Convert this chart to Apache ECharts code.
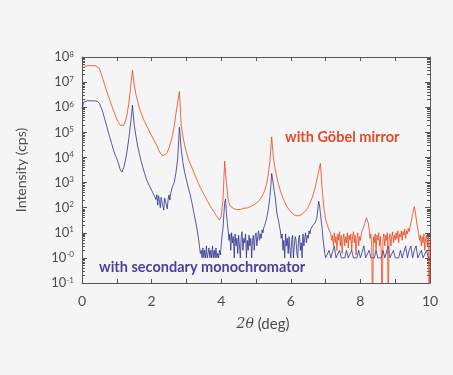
<!DOCTYPE html>
<html>
<head>
<meta charset="utf-8">
<script src="https://cdn.jsdelivr.net/npm/echarts@6/dist/echarts.min.js"></script>
<style>
html, body { margin: 0; padding: 0; background: #f5f5f5; }
#chart { width: 453px; height: 375px; }
</style>
</head>
<body>
<div id="chart"></div>
<script>
// 2theta (deg) for the Goebel mirror scan: 0.05 steps, finer in the noisy tail
const goebelAngle = [
  0.00, 0.05, 0.10, 0.15, 0.20, 0.25, 0.30, 0.35, 0.40, 0.45,
  0.50, 0.55, 0.60, 0.65, 0.70, 0.75, 0.80, 0.85, 0.90, 0.95,
  1.00, 1.05, 1.10, 1.15, 1.20, 1.25, 1.30, 1.35, 1.40, 1.45,
  1.50, 1.55, 1.60, 1.65, 1.70, 1.75, 1.80, 1.85, 1.90, 1.95,
  2.00, 2.05, 2.10, 2.15, 2.20, 2.25, 2.30, 2.35, 2.40, 2.45,
  2.50, 2.55, 2.60, 2.65, 2.70, 2.75, 2.80, 2.85, 2.90, 2.95,
  3.00, 3.05, 3.10, 3.15, 3.20, 3.25, 3.30, 3.35, 3.40, 3.45,
  3.50, 3.55, 3.60, 3.65, 3.70, 3.75, 3.80, 3.85, 3.90, 3.95,
  4.00, 4.05, 4.10, 4.15, 4.20, 4.25, 4.30, 4.35, 4.40, 4.45,
  4.50, 4.55, 4.60, 4.65, 4.70, 4.75, 4.80, 4.85, 4.90, 4.95,
  5.00, 5.05, 5.10, 5.15, 5.20, 5.25, 5.30, 5.35, 5.40, 5.45,
  5.50, 5.55, 5.60, 5.65, 5.70, 5.75, 5.80, 5.85, 5.90, 5.95,
  6.00, 6.05, 6.10, 6.15, 6.20, 6.25, 6.30, 6.35, 6.40, 6.45,
  6.50, 6.55, 6.60, 6.65, 6.70, 6.75, 6.80, 6.85, 6.90, 6.95,
  7.00, 7.05, 7.10, 7.15,
  7.175, 7.200, 7.225, 7.250, 7.275, 7.300, 7.325, 7.350,
  7.375, 7.400, 7.425, 7.450, 7.475, 7.500, 7.525, 7.550,
  7.575, 7.600, 7.625, 7.650, 7.675, 7.700, 7.725, 7.750,
  7.775, 7.800, 7.825, 7.850, 7.875, 7.900, 7.925, 7.950,
  7.975, 8.000, 8.025, 8.050, 8.075, 8.100, 8.125, 8.150,
  8.175, 8.200, 8.225, 8.250, 8.275, 8.300, 8.325, 8.350,
  8.375, 8.400, 8.425, 8.450, 8.475, 8.500, 8.525, 8.550,
  8.575, 8.600, 8.625, 8.650, 8.675, 8.700, 8.725, 8.750,
  8.775, 8.800, 8.825, 8.850, 8.875, 8.900, 8.925, 8.950,
  8.975, 9.000, 9.025, 9.050, 9.075, 9.100, 9.125, 9.150,
  9.175, 9.200, 9.225, 9.250, 9.275, 9.300, 9.325, 9.350,
  9.375, 9.400, 9.425, 9.450, 9.475, 9.500, 9.525, 9.550,
  9.575, 9.600, 9.625, 9.650, 9.675, 9.700, 9.725, 9.750,
  9.775, 9.800, 9.825, 9.850, 9.875, 9.900, 9.925, 9.950,
  9.975, 10.000
];

// intensity with Goebel mirror (cps), 0.01 = zero count (off the log axis)
const goebelCps = [
  3.5e7, 4.2e7, 4.4e7, 4.4e7, 4.5e7, 4.5e7, 4.5e7, 4.4e7, 4.4e7, 4.2e7,
  3.5e7, 2.2e7, 1.3e7, 7.9e6, 4.8e6, 3.0e6, 1.9e6, 1.2e6, 7.6e5, 5.0e5,
  3.4e5, 2.5e5, 1.9e5, 1.7e5, 1.9e5, 2.8e5, 5.6e5, 1.6e6, 7.1e6, 3.0e7,
  7.9e6, 3.2e6, 1.7e6, 8.9e5, 5.8e5, 3.8e5, 2.7e5, 1.9e5, 1.4e5, 1.0e5,
  7.4e4, 5.5e4, 4.0e4, 3.0e4, 2.0e4, 1.5e4, 1.2e4, 1.1e4, 1.3e4, 1.6e4,
  2.4e4, 4.0e4, 7.4e4, 1.8e5, 5.6e5, 1.6e6, 4.2e6, 2.0e5, 7.1e4, 3.0e4,
  1.6e4, 9.3e3, 6.0e3, 4.2e3, 2.8e3, 1.9e3, 1.3e3, 910, 630, 470,
  350, 260, 190, 140, 105, 83, 66, 50, 40, 32,
  45, 200, 7.1e3, 1.0e3, 200, 120, 100, 93, 85, 83,
  89, 85, 91, 95, 100, 98, 107, 112, 126, 132,
  148, 166, 200, 251, 331, 479, 832, 2.0e3, 7.1e3, 6.6e4,
  1.0e4, 3.5e3, 1.6e3, 830, 480, 300, 200, 141, 105, 83,
  68, 58, 51, 47, 47, 49, 52, 59, 69, 83,
  107, 151, 224, 355, 630, 1.3e3, 2.8e3, 5.8e3, 630, 100,
  35, 20, 13, 9,
  5, 8, 3, 10, 4, 7, 2, 9,
  5, 11, 3, 8, 1.5, 6, 9, 3,
  7, 4, 10, 2.5, 8, 5, 9, 2,
  7, 11, 4, 8, 1.3, 6, 10, 3,
  7, 5, 9, 12, 10, 18, 24, 32,
  40, 44, 25, 14, 6, 9, 3, 0.01,
  7, 4, 9, 2, 8, 5, 10, 3,
  7, 1.6, 0.01, 6, 9, 3, 8, 5,
  10, 0.01, 6, 9, 3, 7, 11, 4,
  8, 5, 10, 6, 12, 4, 9, 7,
  12, 5, 11, 8, 14, 6, 12, 9,
  15, 11, 17, 25, 35, 55, 80, 110,
  70, 40, 22, 14, 9, 5, 8, 3,
  7, 4, 9, 2, 6, 8, 3, 7,
  0.01, 5
];

// 2theta (deg) for the secondary monochromator scan, finer where the counts are noisy
const monoAngle = [
  0.00, 0.05, 0.10, 0.15, 0.20, 0.25, 0.30, 0.35, 0.40, 0.45,
  0.50, 0.55, 0.60, 0.65, 0.70, 0.75, 0.80, 0.85, 0.90, 0.95,
  1.00, 1.05, 1.10, 1.15, 1.20, 1.25, 1.30, 1.35, 1.40, 1.45,
  1.50, 1.55, 1.60, 1.65, 1.70, 1.75, 1.80, 1.85, 1.90, 1.95,
  2.000, 2.025, 2.050, 2.075, 2.100, 2.125, 2.150, 2.175,
  2.200, 2.225, 2.250, 2.275, 2.300, 2.325, 2.350, 2.375,
  2.400, 2.425, 2.450, 2.475, 2.500, 2.525, 2.550, 2.575,
  2.60, 2.65, 2.70, 2.75, 2.80, 2.85, 2.90, 2.95,
  3.00, 3.05, 3.10, 3.15, 3.20, 3.25, 3.30, 3.35,
  3.375, 3.400, 3.425, 3.450, 3.475, 3.500, 3.525, 3.550,
  3.575, 3.600, 3.625, 3.650, 3.675, 3.700, 3.725, 3.750,
  3.775, 3.800, 3.825, 3.850, 3.875, 3.900, 3.925, 3.950,
  3.975, 4.000, 4.025, 4.050, 4.075, 4.100, 4.125, 4.150,
  4.175, 4.200, 4.225, 4.250, 4.275, 4.300, 4.325, 4.350,
  4.375, 4.400, 4.425, 4.450, 4.475, 4.500, 4.525, 4.550,
  4.575, 4.600, 4.625, 4.650, 4.675, 4.700, 4.725, 4.750,
  4.775, 4.800, 4.825, 4.850, 4.875, 4.900, 4.925, 4.950,
  4.975, 5.000, 5.025, 5.050, 5.075, 5.100, 5.125, 5.150,
  5.175, 5.200, 5.225, 5.250, 5.275, 5.300, 5.325, 5.350,
  5.375, 5.400, 5.425, 5.450, 5.475, 5.500, 5.525, 5.550,
  5.575, 5.600, 5.625, 5.650, 5.675, 5.700, 5.725, 5.750,
  5.775, 5.800, 5.825, 5.850, 5.875, 5.900, 5.925, 5.950,
  5.975, 6.000, 6.025, 6.050, 6.075, 6.100, 6.125, 6.150,
  6.175, 6.200, 6.225, 6.250, 6.275, 6.300, 6.325, 6.350,
  6.375, 6.400, 6.425, 6.450, 6.475, 6.500, 6.525, 6.550,
  6.575, 6.600, 6.625, 6.650, 6.675, 6.700, 6.725, 6.750,
  6.775, 6.800, 6.825, 6.850, 6.875, 6.900, 6.925, 6.950,
  6.975, 7.000,
  7.05, 7.10, 7.15, 7.20, 7.25, 7.30, 7.35, 7.40, 7.45,
  7.50, 7.55, 7.60, 7.65, 7.70, 7.75, 7.80, 7.85, 7.90, 7.95,
  8.00, 8.05, 8.10, 8.15, 8.20, 8.25, 8.30, 8.35, 8.40, 8.45,
  8.50, 8.55, 8.60, 8.65, 8.70, 8.75, 8.80, 8.85, 8.90, 8.95,
  9.00, 9.05, 9.10, 9.15, 9.20, 9.25, 9.30, 9.35, 9.40, 9.45,
  9.50, 9.55, 9.60, 9.65, 9.70, 9.75, 9.80, 9.85, 9.90, 9.95,
  10.00
];

// intensity with secondary monochromator (cps)
const monoCps = [
  9.1e5, 1.6e6, 1.8e6, 1.8e6, 1.8e6, 1.8e6, 1.8e6, 1.8e6, 1.8e6, 1.7e6,
  1.4e6, 9.5e5, 6.3e5, 3.5e5, 2.0e5, 1.1e5, 6.3e4, 3.6e4, 2.1e4, 1.3e4,
  8.9e3, 5.6e3, 3.2e3, 2.6e3, 4.0e3, 7.9e3, 2.0e4, 6.3e4, 2.5e5, 1.2e6,
  2.0e5, 7.1e4, 2.8e4, 1.4e4, 7.1e3, 4.0e3, 2.3e3, 1.4e3, 950, 680,
  500, 460, 420, 300, 350, 210, 330, 126,
  300, 180, 100, 260, 280, 110, 80, 240,
  250, 130, 89, 220, 320, 200, 380, 330,
  710, 1.0e3, 2.5e3, 8.9e3, 1.6e5, 2.2e4, 6.3e3, 2.5e3,
  1.3e3, 660, 370, 178, 79, 35, 16, 5.6,
  3, 1.5, 2, 1, 2.5, 1, 2, 1,
  3, 1, 1.5, 2.5, 1, 2, 1, 3,
  1, 2, 1, 2.5, 1, 1.5, 1, 2,
  1.3, 3, 8, 14, 50, 150, 220, 60,
  25, 12, 5, 9, 2, 10, 4, 7,
  1, 9, 3, 6, 1.5, 8, 3, 1,
  7, 11, 2, 6, 4, 9, 1, 5,
  2, 8, 3, 6, 1, 5, 8, 2,
  7, 10, 3, 7, 12, 5, 9, 6,
  13, 10, 16, 20, 26, 35, 50, 80,
  140, 270, 700, 2300, 1500, 800, 450, 270,
  130, 60, 40, 30, 18, 12, 6, 9,
  2, 5, 1, 9, 3, 6, 1.5, 7,
  2, 1, 5, 8, 1, 3, 7, 5,
  1.5, 1, 6, 8, 2, 4, 1, 9,
  3, 6, 10, 4, 8, 6, 12, 9,
  14, 16, 19, 22, 20, 25, 32, 40,
  80, 180, 130, 60, 30, 15, 6, 3,
  1.5, 1,
  1, 2, 1, 1, 3, 1, 1, 2, 1,
  1, 1, 2, 1, 1, 2, 1, 1, 1, 2,
  1, 1, 3, 1, 1, 2, 1, 1, 1, 2,
  1, 1, 1, 2, 1, 1, 3, 1, 1, 2,
  1, 1, 1, 2, 1, 1, 3, 1, 2, 3,
  1, 2, 3, 1, 1, 2, 1, 1, 2, 1,
  1
];

const xLabelValues = [0, 2, 4, 6, 8, 10];
const yExponents = ['-1', '-0', '1', '2', '3', '4', '5', '6', '7', '8'];
const seriesNames = ['with secondary monochromator', 'with Göbel mirror'];

// minor log ticks 2..9 in every decade
const minorTicks = [];
for (let d = -1; d < 8; d++) {
  for (let m = 2; m <= 9; m++) minorTicks.push(m * Math.pow(10, d));
}

const textColor = '#4d4d4d';
const frameColor = '#555';
const fontFamily = 'Lato, "Noto Sans", sans-serif';

const myChart = echarts.init(document.getElementById('chart'));

function yAxisPart(position, labels, minor) {
  return {
    type: 'log',
    logBase: 10,
    min: 0.1,
    max: 1e8,
    splitNumber: 9,
    position: position,
    axisLine: { show: !minor, lineStyle: { color: frameColor, width: 1 } },
    axisTick: minor
      ? { show: true, inside: true, length: 3, customValues: minorTicks, lineStyle: { color: frameColor } }
      : { show: true, inside: true, length: 5, lineStyle: { color: frameColor } },
    splitLine: { show: false },
    axisLabel: {
      show: labels,
      margin: 8,
      formatter: function (v) {
        const i = Math.round(Math.log10(v)) + 1;
        return '{b|10}{s|' + yExponents[i] + '}';
      },
      rich: {
        b: { fontSize: 13, color: textColor, fontFamily: fontFamily, lineHeight: 14 },
        s: { fontSize: 8, color: textColor, fontFamily: fontFamily, verticalAlign: 'top', lineHeight: 14 }
      }
    }
  };
}

const option = {
  backgroundColor: '#f5f5f5',
  animation: false,
  grid: { left: 82, right: 23, top: 57, bottom: 92 },
  xAxis: [
    {
      type: 'value',
      min: 0,
      max: 10,
      interval: 1,
      position: 'bottom',
      axisLine: { lineStyle: { color: frameColor, width: 1 } },
      axisTick: { inside: true, length: 4, lineStyle: { color: frameColor } },
      splitLine: { show: false },
      axisLabel: {
        margin: 11,
        color: textColor,
        fontSize: 14,
        fontFamily: fontFamily,
        formatter: function (v) { return xLabelValues.indexOf(v) >= 0 ? String(v) : ''; }
      },
      name: '{theta|2θ} {unit|(deg)}',
      nameLocation: 'middle',
      nameGap: 34,
      nameTextStyle: {
        color: textColor,
        fontSize: 15,
        fontFamily: fontFamily,
        padding: [0, 0, 0, 14],
        rich: {
          theta: { fontFamily: '"DejaVu Serif", serif', fontStyle: 'italic', fontSize: 14, color: textColor },
          unit: { fontFamily: fontFamily, fontSize: 15, color: textColor }
        }
      }
    },
    {
      type: 'value',
      min: 0,
      max: 10,
      interval: 1,
      position: 'top',
      axisLine: { lineStyle: { color: frameColor, width: 1 } },
      axisTick: { inside: true, length: 4, lineStyle: { color: frameColor } },
      splitLine: { show: false },
      axisLabel: { show: false }
    }
  ],
  yAxis: [
    Object.assign(yAxisPart('left', true, false), {
      name: 'Intensity (cps)',
      nameLocation: 'middle',
      nameGap: 54,
      nameRotate: 90,
      nameTextStyle: { color: textColor, fontSize: 14, fontFamily: fontFamily }
    }),
    yAxisPart('left', false, true),
    yAxisPart('right', false, false),
    yAxisPart('right', false, true)
  ],
  series: [
    {
      name: seriesNames[0],
      type: 'line',
      showSymbol: false,
      data: monoAngle.map((x, i) => [x, monoCps[i]]),
      lineStyle: { color: '#2d2f8e', width: 0.8 },
      itemStyle: { color: '#2d2f8e' }
    },
    {
      name: seriesNames[1],
      type: 'line',
      showSymbol: false,
      data: goebelAngle.map((x, i) => [x, goebelCps[i]]),
      lineStyle: { color: '#e8461e', width: 0.8 },
      itemStyle: { color: '#e8461e' }
    }
  ],
  graphic: [
    {
      type: 'text',
      left: 285,
      top: 130,
      style: { text: seriesNames[1], fill: '#e4492a', fontSize: 14.5, fontWeight: 'bold', fontFamily: fontFamily }
    },
    {
      type: 'text',
      left: 99,
      top: 260,
      style: { text: seriesNames[0], fill: '#4a3f9e', fontSize: 14.5, fontWeight: 'bold', fontFamily: fontFamily }
    }
  ]
};

myChart.setOption(option);
</script>
</body>
</html>
